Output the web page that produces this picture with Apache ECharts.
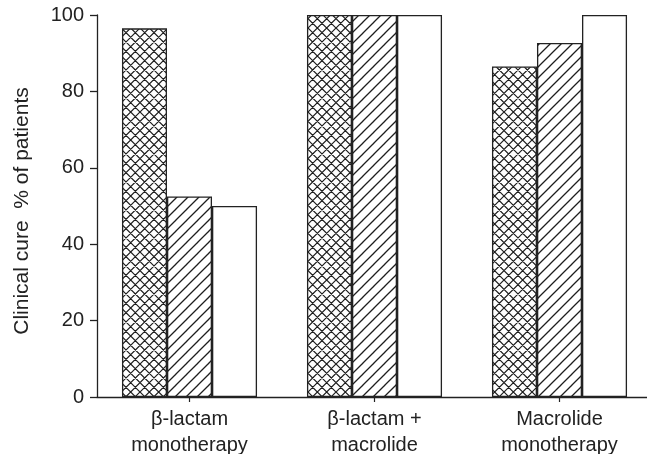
<!DOCTYPE html>
<html>
<head>
<meta charset="utf-8">
<script src="https://cdn.jsdelivr.net/npm/echarts@6/dist/echarts.min.js"></script>
<style>html,body{margin:0;padding:0;background:#fff;}#c{width:647px;height:454px;}</style>
</head>
<body>
<div id="c"></div>
<script>
var categories = ['β-lactam\nmonotherapy', 'β-lactam +\nmacrolide', 'Macrolide\nmonotherapy'];
var seriesA = [96.5, 100, 86.5];
var seriesB = [52.5, 100, 92.7];
var seriesC = [50, 100, 100];
var yTicks = [0, 20, 40, 60, 80, 100];

var FONT = "'Liberation Sans', Arial, sans-serif";
var INK = '#222';

function makeTile(s, n, both, lw) {
  var cv = document.createElement('canvas');
  cv.width = s; cv.height = s;
  var g = cv.getContext('2d');
  g.fillStyle = '#fff';
  g.fillRect(0, 0, s, s);
  g.strokeStyle = '#1e1e1e';
  g.lineWidth = lw;
  g.beginPath();
  var p = s / n;
  for (var k = -n - 1; k <= 2 * n + 1; k++) {
    var c = k * p;
    g.moveTo(c + 2, -2); g.lineTo(c - s - 2, s + 2);
    if (both) {
      g.moveTo(c - s - 2, -2); g.lineTo(c + 2, s + 2);
    }
  }
  g.stroke();
  return cv;
}

var chart = echarts.init(document.getElementById('c'));
var itemBase = { borderColor: INK, borderWidth: 1.3 };
chart.setOption({
  animation: false,
  backgroundColor: '#fff',
  grid: { left: 97, top: 15, width: 555, height: 382, containLabel: false, outerBoundsMode: 'none' },
  xAxis: {
    type: 'category',
    data: categories,
    axisLine: { lineStyle: { color: INK, width: 1.3 } },
    axisTick: { show: true, alignWithLabel: true, length: 5, lineStyle: { color: INK, width: 1.2 } },
    axisLabel: { color: INK, fontFamily: FONT, fontSize: 20, lineHeight: 26, margin: 9, interval: 0 }
  },
  yAxis: {
    type: 'value',
    min: 0, max: 100, interval: 20,
    name: 'Clinical cure  % of patients',
    nameLocation: 'middle',
    nameGap: 64,
    nameTextStyle: { color: INK, fontFamily: FONT, fontSize: 21, padding: [0, 10, 0, 0] },
    axisLine: { show: true, lineStyle: { color: INK, width: 1.3 } },
    axisTick: { show: true, inside: false, interval: 0, length: 7, lineStyle: { color: INK, width: 1.3 } },
    axisLabel: { show: true, color: INK, fontFamily: FONT, fontSize: 20, margin: 13,
      formatter: function (v) { return yTicks.indexOf(v) >= 0 ? String(v) : ''; } },
    splitLine: { show: false }
  },
  series: [
    { type: 'bar', data: seriesA, barGap: 0, barCategoryGap: '27%',
      itemStyle: Object.assign({ color: { image: makeTile(28, 3, true, 1.2), repeat: 'repeat' } }, itemBase) },
    { type: 'bar', data: seriesB, barGap: 0, barCategoryGap: '27%',
      itemStyle: Object.assign({ color: { image: makeTile(11, 1, false, 1.3), repeat: 'repeat' } }, itemBase) },
    { type: 'bar', data: seriesC, barGap: 0, barCategoryGap: '27%',
      itemStyle: Object.assign({ color: '#fff' }, itemBase) }
  ]
});
</script>
</body>
</html>
